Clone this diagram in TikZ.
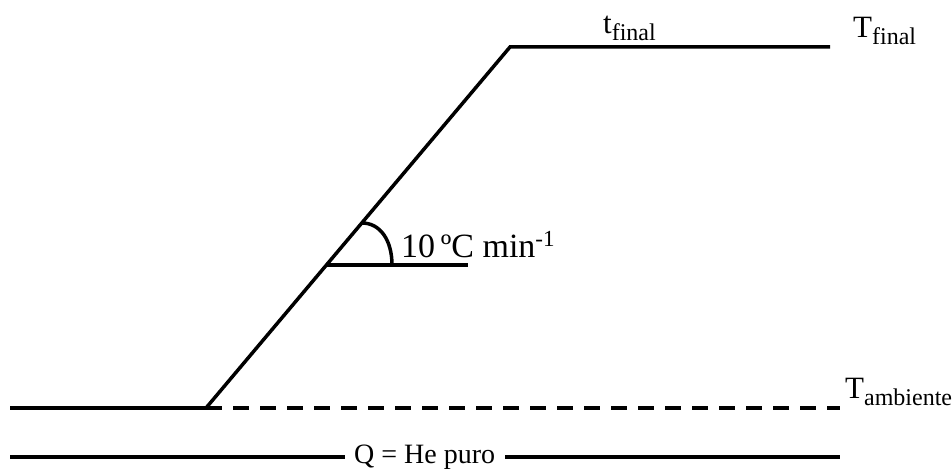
\documentclass[tikz,border=0pt]{standalone}
\usepackage{fontspec}
\setmainfont{Liberation Serif}
\newcommand{\fsz}[1]{\fontsize{#1}{#1}\selectfont}
\newcommand{\mysub}[3]{{\fsz{#1}#2}\raisebox{-7pt}{\fsz{24}#3}}
\tikzset{
  thick line/.style={line width=3.5pt},
  lab/.style={inner sep=0pt, anchor=base west}
}
\begin{document}
\begin{tikzpicture}[x=1pt,y=1pt]
\useasboundingbox (0,0) rectangle (952,470);
\coordinate (A) at (10,62);
\coordinate (B) at (206,62);
\coordinate (B2) at (222,62);
\coordinate (B3) at (233,62);
\coordinate (C) at (510,423);
\coordinate (D) at (830,423);
\coordinate (E) at (840,62);
\coordinate (V) at (326,205);
\coordinate (H) at (468,205);
\coordinate (P) at (362,247);
\coordinate (R) at (392,205);
\coordinate (QL) at (10,13);
\coordinate (QR) at (840,13);
\draw[thick line] (A) -- (B2);
\draw[thick line] (B) -- (C) -- (D);
\draw[thick line, dash pattern=on 16pt off 11pt] (B3) -- (E);
\draw[thick line] (V) -- (H);
\draw[thick line] (P) .. controls (380,247) and (392,230) .. (R);
\node[lab] (tf) at (603,436) {\mysub{31}{t}{final}};
\node[lab] (Tf) at (853,432) {\mysub{31}{T}{final}};
\node[lab] (Ta) at (845,71) {\mysub{31}{T}{ambiente}};
\node[lab] (rate) at (401,212) {\fsz{34}10\,ºC min\raisebox{0.35em}{\fsz{23}-1}};
\node[lab] (Q) at (354,6) {\fsz{28}Q = He puro};
\draw[thick line] (QL) -- ([xshift=-9pt]Q.west |- QL);
\draw[thick line] ([xshift=10pt]Q.east |- QR) -- (QR);
\end{tikzpicture}
\end{document}
